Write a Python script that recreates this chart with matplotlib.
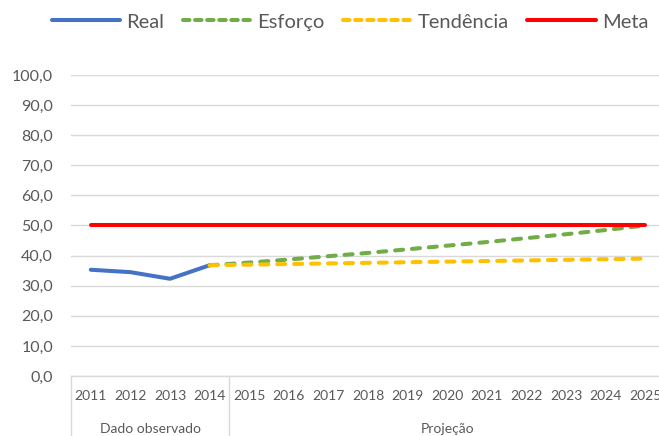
import numpy as np
import matplotlib
matplotlib.use("Agg")
import matplotlib.pyplot as plt
import matplotlib.transforms as mtransforms
from matplotlib.lines import Line2D

years = ["2011", "2012", "2013", "2014", "2015", "2016", "2017", "2018",
         "2019", "2020", "2021", "2022", "2023", "2024", "2025"]
nan = np.nan
real = [35.3, 34.5, 32.3, 36.8, nan, nan, nan, nan, nan, nan, nan, nan, nan, nan, nan]
esforco = [nan, nan, nan, 36.8, 37.7, 38.7, 39.8, 40.9, 42.1, 43.3, 44.5, 45.8, 47.1, 48.5, 50.0]
tendencia = [nan, nan, nan, 36.8, 37.0, 37.2, 37.4, 37.6, 37.8, 38.0, 38.2, 38.4, 38.6, 38.8, 39.0]
meta = [50.0] * 15
groups = ["Dado observado", "Projeção"]
group_sizes = [4, 11]
yticks = [0, 10, 20, 30, 40, 50, 60, 70, 80, 90, 100]

FONT = ["Lato", "DejaVu Sans"]
plt.rcParams["font.family"] = FONT
TXT = "#595959"
GRID = "#D9D9D9"

fig = plt.figure(figsize=(6.59, 4.36), dpi=100)
ax = fig.add_axes([71 / 659, 60 / 436, 594 / 659, 301 / 436])

x = np.arange(len(years))
lw = 2.9
ax.plot(x, real, color="#4472C4", lw=lw, solid_capstyle="round", zorder=3, label="Real")
ax.plot(x, esforco, color="#70AD47", lw=lw, dashes=(2.0, 2.2), dash_capstyle="round",
        zorder=4, label="Esforço")
ax.plot(x, tendencia, color="#FFC000", lw=lw, dashes=(2.0, 2.2), dash_capstyle="round",
        zorder=5, label="Tendência")
ax.plot(x, meta, color="#FF0000", lw=lw, solid_capstyle="round", zorder=6, label="Meta")

ax.set_xlim(-0.5, len(years) - 0.5)
ax.set_ylim(0, 100)
ax.set_yticks(yticks)
ax.set_yticklabels([f"{v:.1f}".replace(".", ",") for v in yticks])
ax.set_xticks(x)
ax.set_xticklabels(years)
ax.grid(axis="y", color=GRID, lw=1)
ax.set_axisbelow(True)
for s in ["left", "right", "top"]:
    ax.spines[s].set_visible(False)
ax.spines["bottom"].set_color(GRID)
ax.spines["bottom"].set_linewidth(1)
ax.tick_params(axis="x", length=0, pad=10, labelsize=10, labelcolor=TXT)
ax.tick_params(axis="y", length=0, pad=13, labelsize=11.5, labelcolor=TXT)

# group separators and labels
trans = mtransforms.blended_transform_factory(ax.transData, ax.transAxes)
edges = [-0.5]
for n in group_sizes:
    edges.append(edges[-1] + n)
for e in edges:
    ax.add_line(Line2D([e, e], [0, -0.21], transform=trans, color=GRID, lw=1, clip_on=False))
for g, a, b in zip(groups, edges[:-1], edges[1:]):
    ax.text((a + b) / 2, -0.175, g, transform=trans, ha="center", va="center",
            fontsize=10, color=TXT)

handles = [
    Line2D([], [], color="#4472C4", lw=lw, solid_capstyle="round"),
    Line2D([], [], color="#70AD47", lw=lw, dashes=(1.6, 1.4), dash_capstyle="round"),
    Line2D([], [], color="#FFC000", lw=lw, dashes=(1.6, 1.4), dash_capstyle="round"),
    Line2D([], [], color="#FF0000", lw=lw, solid_capstyle="round"),
]
leg = fig.legend(handles, ["Real", "Esforço", "Tendência", "Meta"], loc="center",
                 bbox_to_anchor=(350 / 659, 1 - 22 / 436), ncol=4, frameon=False,
                 fontsize=14.5, handlelength=3.4, handletextpad=0.32, columnspacing=0.9,
                 borderaxespad=0)
for t in leg.get_texts():
    t.set_color(TXT)

fig.savefig("out.png", dpi=100)
